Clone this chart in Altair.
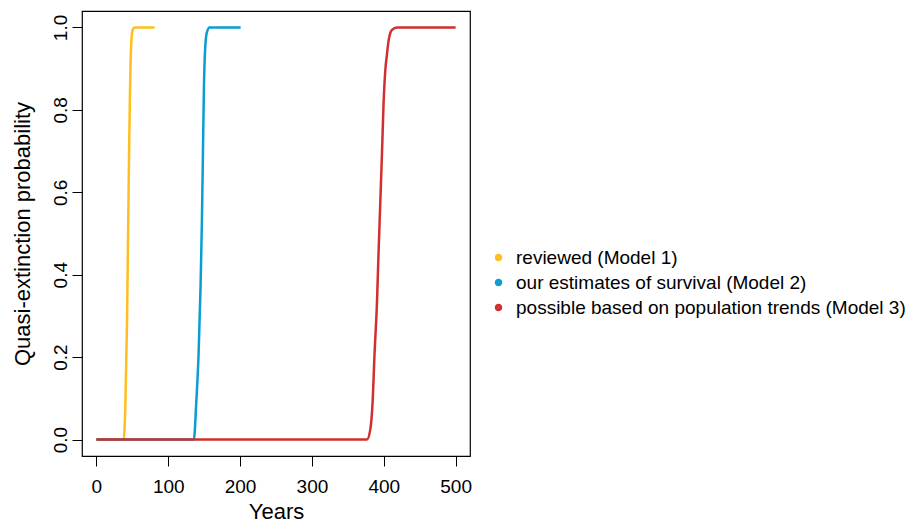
import altair as alt
import pandas as pd

series_names = [
    "reviewed (Model 1)",
    "our estimates of survival (Model 2)",
    "possible based on population trends (Model 3)",
]
series_colors = ["#FFBE1E", "#0A9DD2", "#D12F2F"]

years_m1 = [0, 38.1, 40.4, 42.7, 44.1, 45.5, 46.9, 48.3, 50.2, 53.4, 81]
prob_m1 = [0, 0, 0.089, 0.29, 0.492, 0.694, 0.855, 0.952, 0.992, 1.0, 1.0]

years_m2 = [0, 135.7, 139.0, 142.3, 145.0, 146.9, 148.3, 149.7, 151.5, 153.8, 157.6, 200.8]
prob_m2 = [0, 0, 0.089, 0.21, 0.371, 0.532, 0.694, 0.855, 0.952, 0.988, 1.0, 1.0]

years_m3 = [0, 376.6, 381.2, 384.4, 387.2, 390.5, 392.7, 395.1, 397.5, 399.7, 402.1, 404.5, 406.7, 411.4, 418.4, 500]
prob_m3 = [0, 0, 0.024, 0.089, 0.21, 0.331, 0.452, 0.573, 0.694, 0.815, 0.895, 0.936, 0.968, 0.994, 1.0, 1.0]

x_ticks = [0, 100, 200, 300, 400, 500]
y_ticks = [0.0, 0.2, 0.4, 0.6, 0.8, 1.0]

rows = []
for name, xs, ys in zip(series_names, [years_m1, years_m2, years_m3], [prob_m1, prob_m2, prob_m3]):
    for i, (xv, yv) in enumerate(zip(xs, ys)):
        rows.append({"series": name, "year": xv, "prob": yv, "idx": i})
df = pd.DataFrame(rows)

FONT = "Liberation Sans"
W, H = 388, 445

x_enc = alt.X(
    "year:Q",
    scale=alt.Scale(domain=[-20, 520], nice=False, zero=False),
    axis=alt.Axis(
        values=x_ticks, format="d", domain=False, grid=False,
        tickSize=10, tickColor="black", tickWidth=1,
        labelFontSize=19, labelFont=FONT, labelColor="black", labelPadding=11,
        labelFlush=False, labelOverlap=False,
        title="Years", titleFontSize=22, titleFont=FONT, titleFontWeight="normal",
        titleColor="black", titleX=W / 2, titleY=55, titleBaseline="middle",
        titleAlign="center",
    ),
)
y_enc = alt.Y(
    "prob:Q",
    scale=alt.Scale(domain=[-0.04, 1.04], nice=False, zero=False),
    axis=alt.Axis(
        values=y_ticks, format=".1f", domain=False, grid=False,
        tickSize=10, tickColor="black", tickWidth=1,
        labelFontSize=19, labelFont=FONT, labelColor="black", labelPadding=6,
        labelAngle=270, labelAlign="center", labelBaseline="alphabetic",
        labelFlush=False, labelOverlap=False,
        title="Quasi-extinction probability", titleFontSize=22, titleFont=FONT,
        titleFontWeight="normal", titleColor="black", titleX=-60, titleY=H / 2,
        titleBaseline="middle", titleAlign="center", titleAngle=270,
    ),
)

color_scale = alt.Scale(domain=series_names, range=series_colors)

legend = alt.Legend(
    title=None, orient="none", legendX=407, legendY=237,
    symbolType="circle", symbolSize=12, symbolStrokeWidth=4,
    labelFontSize=19, labelFont=FONT, labelColor="black", labelLimit=0,
    labelOffset=8, rowPadding=4, padding=0, symbolOpacity=1,
)

layers = []
for k, name in enumerate(series_names):
    enc_color = alt.Color("series:N", scale=color_scale, legend=legend)
    layer = (
        alt.Chart(df)
        .transform_filter(alt.datum.series == name)
        .mark_line(strokeWidth=2.5, interpolate="monotone")
        .encode(x=x_enc, y=y_enc, color=enc_color, order="idx:Q")
    )
    layers.append(layer)

chart = (
    alt.layer(*layers)
    .properties(
        width=W, height=H,
        background="white",
        autosize=alt.AutoSizeParams(type="none"),
        padding={"left": 74, "top": 3, "right": 443, "bottom": 66},
    )
    .configure_view(stroke="black", strokeWidth=1.2, fill="white")
)

chart.save("out.html", embed_options={"renderer": "svg", "actions": False})
